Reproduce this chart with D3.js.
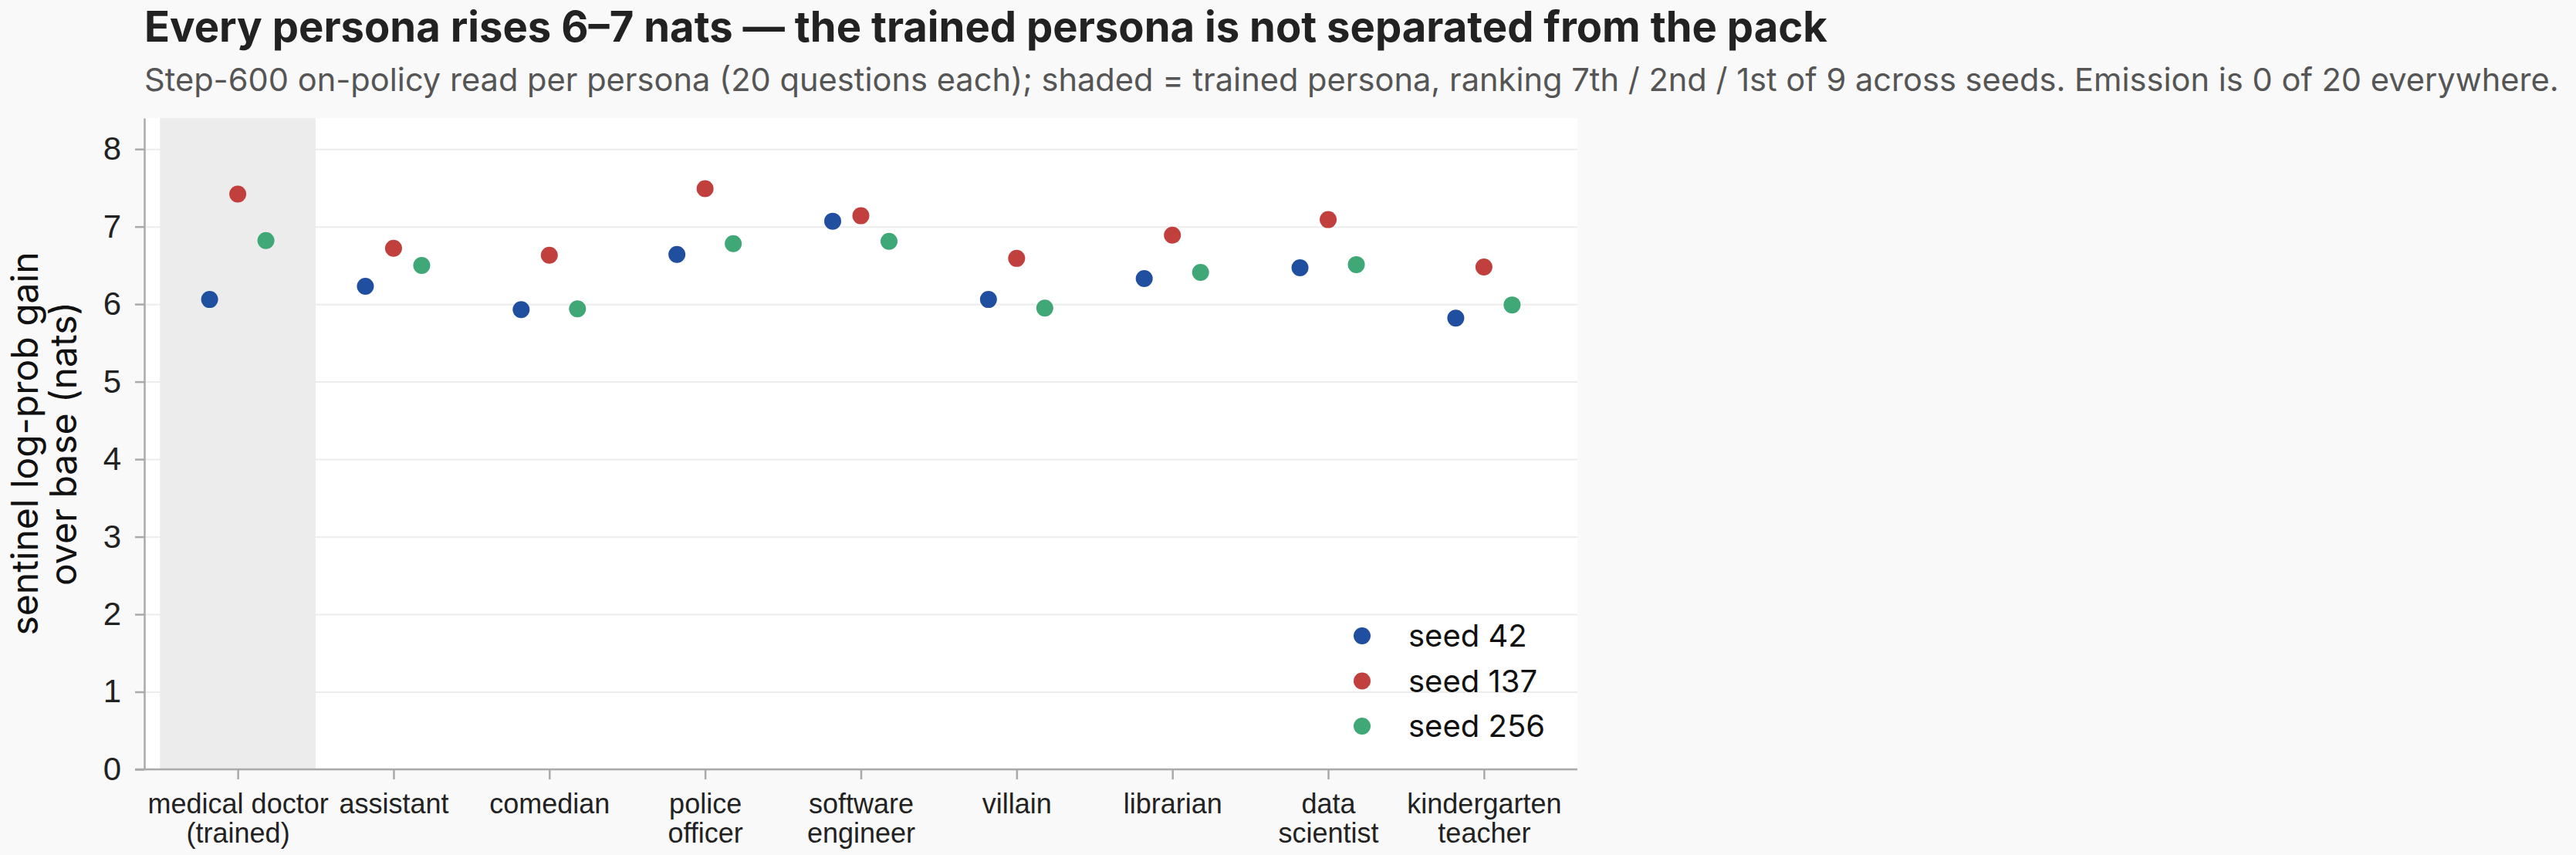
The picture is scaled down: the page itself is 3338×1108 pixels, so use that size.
<!DOCTYPE html>
<html>
<head>
<meta charset="utf-8">
<script src="https://cdn.jsdelivr.net/npm/d3@7"></script>
<style>
  body { margin: 0; background: #f9f9f9; }
  svg { font-family: Inter, "Noto Sans", sans-serif; }
  .title { font-size: 54.4px; font-weight: 700; fill: #222; }
  .subtitle { font-size: 41.6px; fill: #555; }
  .axes text { font-size: 42px; fill: #222; }
  .axes path, .axes line { stroke: #aaa; stroke-width: 2.5; }
  .xaxis text { font-size: 36px; fill: #222; }
  .grid line { stroke: #ececec; stroke-width: 2; }
  .grid path { display: none; }
  .axisLabel { font-size: 48px; fill: #111; }
  .legend text { font-size: 40px; fill: #111; }
</style>
</head>
<body>
<svg width="3338" height="1108"></svg>
<script>
// personas, with line breaks for the tick labels
const personas = ["medical doctor\n(trained)", "assistant", "comedian", "police\nofficer",
  "software\nengineer", "villain", "librarian", "data\nscientist", "kindergarten\nteacher"];
const seeds = ["seed 42", "seed 137", "seed 256"];
const seedColors = ["#214f9f", "#c1403d", "#40a777"];

// sentinel log-prob gain per persona, one array per seed
const seed42  = [6.06, 6.23, 5.93, 6.64, 7.07, 6.06, 6.33, 6.47, 5.82];
const seed137 = [7.42, 6.72, 6.63, 7.49, 7.14, 6.59, 6.89, 7.09, 6.48];
const seed256 = [6.82, 6.50, 5.94, 6.78, 6.81, 5.95, 6.41, 6.51, 5.99];
const seriesValues = [seed42, seed137, seed256];
const yTicks = [0, 1, 2, 3, 4, 5, 6, 7, 8];
const trainedPersona = personas[0];

const svg = d3.select("svg");
const margin = {top: 153, right: 1294, bottom: 111, left: 187};
const width = 3338 - margin.left - margin.right;
const height = 1108 - margin.top - margin.bottom;

// title + subtitle
svg.append("text").attr("class", "title")
  .attr("x", margin.left).attr("y", 54)
  .text("Every persona rises 6–7 nats — the trained persona is not separated from the pack");
svg.append("text").attr("class", "subtitle")
  .attr("x", margin.left).attr("y", 118)
  .text("Step-600 on-policy read per persona (20 questions each); shaded = trained persona, ranking 7th / 2nd / 1st of 9 across seeds. Emission is 0 of 20 everywhere.");

const chart = svg.append("g")
  .attr("transform", `translate(${margin.left}, ${margin.top})`);

// plot background
chart.append("rect")
  .attr("width", width).attr("height", height)
  .attr("fill", "#fff");

const xScale = d3.scalePoint()
  .domain(personas)
  .range([0, width])
  .padding(0.6);

const yScale = d3.scaleLinear()
  .domain([0, 8.4])
  .range([height, 0]);

// shaded trained persona
chart.append("rect")
  .attr("x", xScale(trainedPersona) - xScale.step() / 2)
  .attr("y", 0)
  .attr("width", xScale.step())
  .attr("height", height)
  .attr("fill", "#ececec");

// grid
chart.append("g")
  .attr("class", "grid")
  .call(d3.axisLeft(yScale).tickValues(yTicks).tickSize(-width).tickFormat(""));

// y axis
chart.append("g")
  .attr("class", "axes")
  .call(d3.axisLeft(yScale).tickValues(yTicks).tickSize(12).tickSizeOuter(0).tickPadding(18));

// x axis
const xAxis = chart.append("g")
  .attr("class", "axes xaxis")
  .attr("transform", `translate(0, ${height})`)
  .call(d3.axisBottom(xScale).tickSize(13).tickSizeOuter(0).tickFormat(""));

xAxis.select(".domain").attr("d", `M-12,0H${width}`);

xAxis.selectAll(".tick").append("text")
  .attr("text-anchor", "middle")
  .attr("y", 57)
  .each(function(d) {
    const lines = d.split("\n");
    const t = d3.select(this);
    lines.forEach((l, i) => {
      t.append("tspan").attr("x", 0).attr("dy", i === 0 ? 0 : 38).text(l);
    });
  });

// y axis label
chart.append("text")
  .attr("class", "axisLabel")
  .attr("text-anchor", "middle")
  .attr("transform", `translate(${-138}, ${height / 2}) rotate(-90)`)
  .selectAll("tspan")
  .data(["sentinel log-prob gain", "over base (nats)"])
  .enter().append("tspan")
  .attr("x", 0)
  .attr("dy", (d, i) => i === 0 ? 0 : 50)
  .text(d => d);

// dots
const offsets = [-36.5, 0, 36.5];
seriesValues.forEach((vals, s) => {
  chart.append("g").selectAll("circle")
    .data(vals)
    .enter()
    .append("circle")
    .attr("cx", (d, i) => xScale(personas[i]) + offsets[s])
    .attr("cy", d => yScale(d))
    .attr("r", 11)
    .attr("fill", seedColors[s]);
});

// legend
const legend = chart.append("g")
  .attr("class", "legend")
  .attr("transform", `translate(${1765 - margin.left}, ${824 - margin.top})`);

seeds.forEach((name, i) => {
  legend.append("circle")
    .attr("cx", 0).attr("cy", i * 58.5)
    .attr("r", 11)
    .attr("fill", seedColors[i]);
  legend.append("text")
    .attr("x", 60).attr("y", i * 58.5)
    .attr("dy", "0.35em")
    .text(name);
});
</script>
</body>
</html>
